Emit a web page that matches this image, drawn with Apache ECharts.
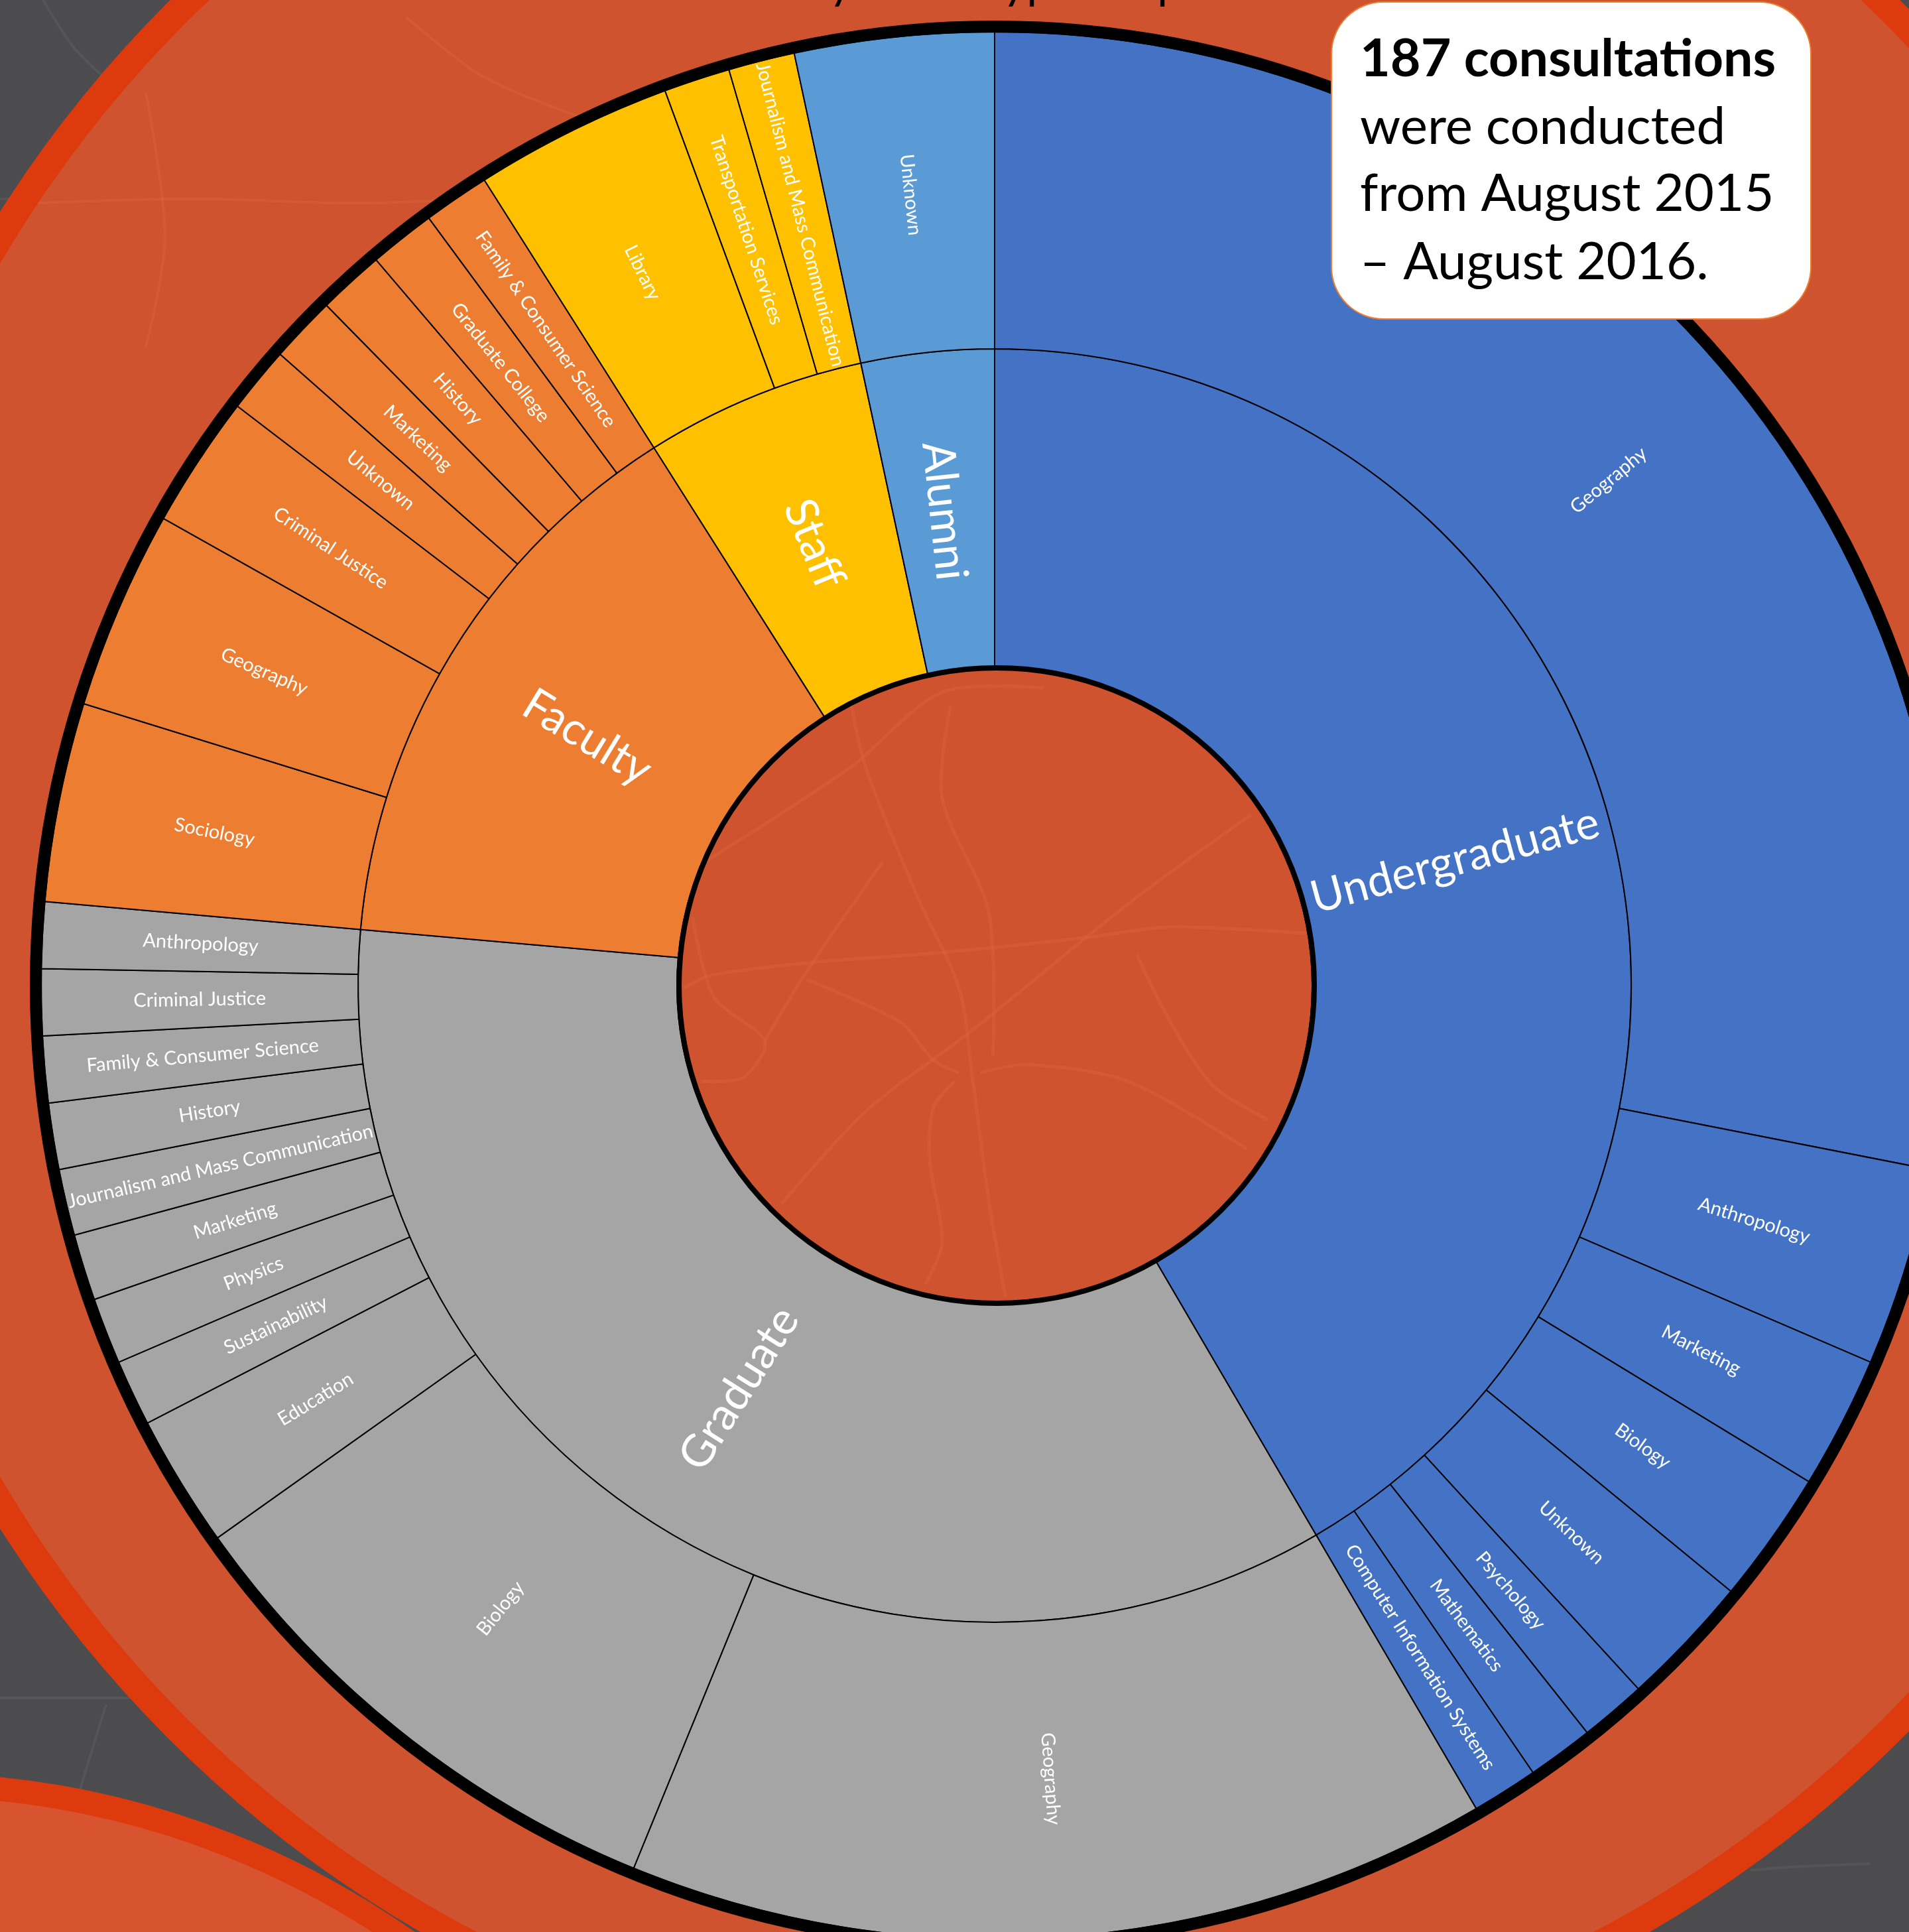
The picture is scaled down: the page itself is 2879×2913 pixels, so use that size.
<!DOCTYPE html>
<html>
<head>
<meta charset="utf-8">
<title>Consultations</title>
<style>
  html, body { margin: 0; padding: 0; background: #4c4c4e; overflow: hidden; }
  #chart { width: 2879px; height: 2913px; }
</style>
<script src="https://cdn.jsdelivr.net/npm/echarts@6/dist/echarts.min.js"></script>
</head>
<body>
<div id="chart"></div>
<script>
// slice sizes, one unit is about 4 degrees
const groupNames = ['Undergraduate', 'Graduate', 'Faculty', 'Staff', 'Alumni'];
const groupColors = ['#4472C4', '#A5A5A5', '#ED7D31', '#FFC000', '#5B9BD5'];

const undergradDepts = ['Geography', 'Anthropology', 'Marketing', 'Biology', 'Unknown', 'Psychology', 'Mathematics', 'Computer Information Systems'];
const undergradCounts = [25, 3, 2, 2, 2, 1, 1, 1];

const gradDepts = ['Geography', 'Biology', 'Education', 'Sustainability', 'Physics', 'Marketing', 'Journalism and Mass Communication', 'History', 'Family & Consumer Science', 'Criminal Justice', 'Anthropology'];
const gradCounts = [13, 8, 2, 1, 1, 1, 1, 1, 1, 1, 1];

const facultyDepts = ['Sociology', 'Geography', 'Criminal Justice', 'Unknown', 'Marketing', 'History', 'Graduate College', 'Family & Consumer Science'];
const facultyCounts = [3, 3, 2, 1, 1, 1, 1, 1];

const staffDepts = ['Library', 'Transportation Services', 'Journalism and Mass Communication'];
const staffCounts = [3, 1, 1];

const alumniDepts = ['Unknown'];
const alumniCounts = [3];

const noteLines = ['187 consultations', 'were conducted', 'from August 2015', '\u2013 August 2016.'];

const allDepts = [undergradDepts, gradDepts, facultyDepts, staffDepts, alumniDepts];
const allCounts = [undergradCounts, gradCounts, facultyCounts, staffCounts, alumniCounts];

const sunData = groupNames.map((name, i) => ({
  name: name,
  itemStyle: { color: groupColors[i] },
  children: allDepts[i].map((d, j) => ({
    name: d,
    value: allCounts[i][j],
    itemStyle: { color: groupColors[i] }
  }))
}));

function roads(list, ox, oy, sx, sy, stroke, width, z) {
  return list.map((pts) => ({
    type: 'polyline',
    z: z,
    silent: true,
    shape: { points: pts.map((p) => [ox + p[0] / sx, oy + p[1] / sy]), smooth: 0.3 },
    style: { stroke: stroke, lineWidth: width, fill: null, opacity: 0.3 }
  }));
}
const centerRoads = [
  [[445,130],[480,280],[600,580],[700,800],[730,1000],[770,1300],[810,1530]],
  [[50,800],[110,770],[340,740],[660,715],[1000,680],[1200,655],[1520,670]],
  [[280,1310],[480,1090],[730,900],[1100,600],[1390,390]],
  [[100,500],[440,280],[660,100],[900,90]],
  [[70,630],[120,820],[240,925],[190,1010],[90,1020]],
  [[240,925],[340,760],[520,500]],
  [[340,780],[560,880],[640,970],[700,1000]],
  [[750,1000],[860,980],[1100,1020],[1380,1180]],
  [[1120,720],[1200,880],[1300,1030],[1430,1110]],
  [[680,130],[660,350],[770,620],[780,960]],
  [[690,1020],[640,1080],[630,1200],[660,1400],[620,1500]]
];
const ringRoads = [
  [[60,480],[300,470],[560,480],[760,470]],
  [[230,220],[260,560],[230,820]],
  [[640,40],[760,180],[920,280]]
];
const darkRoads = [
  [[65,0],[110,70],[155,115]],
  [[0,300],[90,300]],
  [[0,2560],[200,2560]],
  [[160,2570],[120,2700]],
  [[2640,2820],[2700,2815],[2820,2810]]
];

const bigCenter = [1561, 1312];
const lowCenter = [-131, 3986];
const chartCenter = [1500, 1486];

const background = [
  ...roads(darkRoads, 0, 0, 1, 1, '#6a6a6c', 4, -20),
  {
    type: 'circle', z: -12, silent: true,
    shape: { cx: lowCenter[0], cy: lowCenter[1], r: 1295 },
    style: { fill: '#D85431', stroke: '#DD3A0E', lineWidth: 36 }
  },
  {
    type: 'circle', z: -10, silent: true,
    shape: { cx: bigCenter[0], cy: bigCenter[1], r: 1829.5 },
    style: { fill: '#D05330', stroke: '#DD3A0E', lineWidth: 41 }
  },
  ...roads(ringRoads, 0, 0, 1.045, 1.568, '#DE6A44', 4, -8),
  ...roads(centerRoads, 1000, 980, 1.568, 1.568, '#DE6A44', 5, -8)
];

// bits of the title cut off by the top edge, only descenders show
const cutTitle = [[1250, 'y'], [1512, 'yp'], [1745, 'p']].map((t) => ({
  type: 'text', z: -6, silent: true,
  style: { text: t[1], x: t[0], y: 10, font: '70px Lato', fill: '#000', verticalAlign: 'bottom', align: 'left' }
}));

const noteY = [90, 192, 293, 396];
const noteFonts = ['bold 79px Lato', '78px Lato', '78px Lato', '78px Lato'];
const note = [
  {
    type: 'rect', z: 50, silent: true,
    shape: { x: 2008, y: 3, width: 723, height: 478, r: 78 },
    style: { fill: '#fff', stroke: '#ED7D31', lineWidth: 2 }
  },
  ...noteLines.map((line, i) => ({
    type: 'text', z: 51, silent: true,
    style: {
      text: line, x: 2051, y: noteY[i],
      font: noteFonts[i],
      fill: '#000', verticalAlign: 'middle', align: 'left'
    }
  }))
];

const rings = [
  {
    type: 'circle', z: 20, silent: true,
    shape: { cx: chartCenter[0], cy: chartCenter[1], r: 1446 },
    style: { fill: null, stroke: '#000', lineWidth: 18 }
  },
  {
    type: 'circle', z: 20, silent: true,
    shape: { cx: chartCenter[0] + 3, cy: chartCenter[1], r: 479 },
    style: { fill: null, stroke: '#000', lineWidth: 8 }
  }
];

const chart = echarts.init(document.getElementById('chart'), null, { renderer: 'canvas' });
chart.setOption({
  animation: false,
  backgroundColor: '#4c4c4e',
  graphic: { elements: [...background, ...cutTitle, ...rings, ...note] },
  series: [{
    type: 'sunburst',
    z: 5,
    center: chartCenter,
    radius: [479, 1438],
    startAngle: 90,
    sort: null,
    nodeClick: false,
    silent: true,
    emphasis: { focus: 'none' },
    itemStyle: { borderColor: '#000', borderWidth: 2 },
    label: { rotate: 'radial', color: '#fff', fontFamily: 'Lato', minAngle: 0 },
    levels: [
      {},
      { r0: 479, r: 960, label: { fontSize: 68 }, itemStyle: { borderColor: '#000', borderWidth: 2 } },
      { r0: 960, r: 1438, label: { fontSize: 29 }, itemStyle: { borderColor: '#000', borderWidth: 2 } }
    ],
    data: sunData
  }]
});
window.addEventListener('resize', chart.resize);
</script>
</body>
</html>
